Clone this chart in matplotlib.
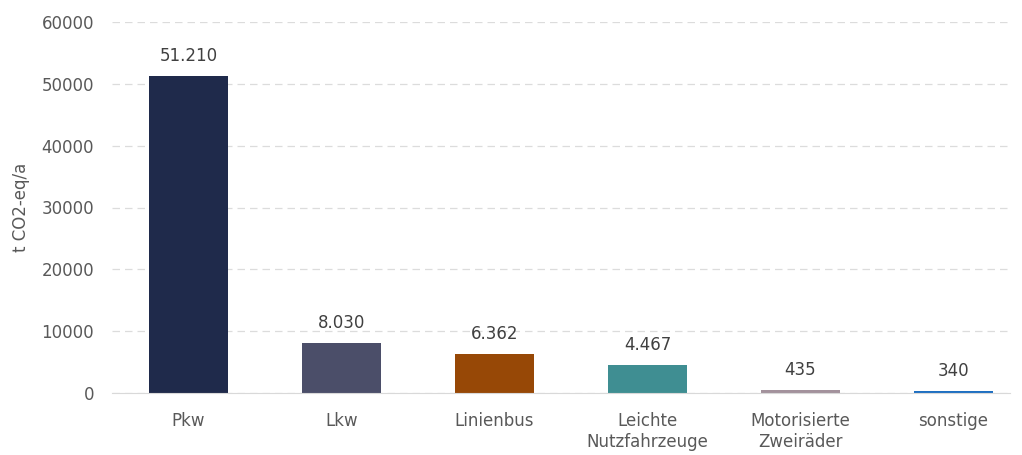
import numpy as np
import matplotlib.pyplot as plt

categories = ['Pkw', 'Lkw', 'Linienbus', 'Leichte\nNutzfahrzeuge', 'Motorisierte\nZweiräder', 'sonstige']
values = [51210, 8030, 6362, 4467, 435, 340]
colors = ['#1F2A4B', '#4B4E69', '#974806', '#3F8E92', '#A3929C', '#1E6FC1']
yticks = [0, 10000, 20000, 30000, 40000, 50000, 60000]

plt.rcParams['font.family'] = ['DejaVu Sans']
txt = '#595959'

fig = plt.figure(figsize=(10.22, 4.55), dpi=100)
W, H = 1022, 455
ax = fig.add_axes([112 / W, (H - 393) / H, 898 / W, (393 - 22) / H])

x = np.arange(len(categories))
ax.bar(x, values, width=0.51, color=colors, zorder=3)

# value labels in German number format
for xi, v in zip(x, values):
    lab = f'{v:,}'.replace(',', '.')
    ax.annotate(lab, (xi, v), xytext=(0, 8), textcoords='offset points',
                ha='center', va='bottom', fontsize=12, color='#404040')

ax.set_xlim(-0.5, -0.5 + 898 / 153)
ax.set_ylim(0, 60000)
ax.set_yticks(yticks)
ax.set_yticklabels([str(t) for t in yticks], fontsize=12, color=txt)
ax.set_xticks(x)
ax.set_xticklabels(categories, fontsize=12, color=txt, linespacing=1.15)
ax.tick_params(axis='x', length=0, pad=14)
ax.tick_params(axis='y', length=0, pad=13)

ax.yaxis.grid(True, linestyle=(0, (6, 4)), color='#DCDCDC', linewidth=0.9, zorder=0)
for s in ['top', 'right', 'left']:
    ax.spines[s].set_visible(False)
ax.spines['bottom'].set_color('#D9D9D9')
ax.spines['bottom'].set_zorder(4)

ax.set_ylabel('t CO2-eq/a', fontsize=12, color=txt, labelpad=8)

fig.savefig('out.png', dpi=100)
